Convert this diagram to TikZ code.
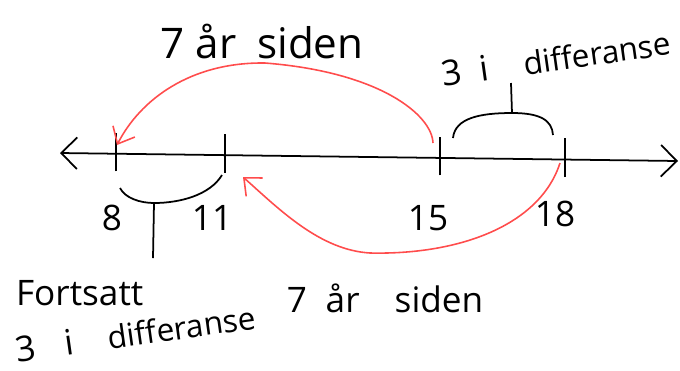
\documentclass[tikz,border=0pt]{standalone}
\usepackage{fontspec}
\setmainfont{Open Sans}
\usetikzlibrary{arrows.meta,positioning}
\tikzstyle{hand}=[font=\fontsize{20}{22}\selectfont,inner sep=1pt]
\tikzstyle{smallhand}=[font=\fontsize{18}{20}\selectfont,inner sep=1pt]
\tikzstyle{bighand}=[font=\fontsize{24}{26}\selectfont,inner sep=1pt]
\tikzstyle{axis}=[{Straight Barb[length=9pt,width=18pt]}-{Straight Barb[length=9pt,width=18pt]},line width=1pt]
\tikzstyle{tickmark}=[line width=1pt]
\tikzstyle{brace}=[line width=1pt]
\tikzstyle{redarr}=[-{Straight Barb[length=8pt,width=14pt]},red!70,line width=0.9pt]
\begin{document}
\begin{tikzpicture}[x=0.02cm,y=-0.02cm]
\useasboundingbox (0,0) rectangle (680,370);
% number line
\coordinate (L) at (60,153);
\coordinate (R) at (678,161);
\draw[axis] (L) -- (R);
\foreach \x/\n in {116/8,225/11,440/15,565/18}{
  \coordinate (t\n) at (\x,{153+8*(\x-60)/618});
  \draw[tickmark] ([yshift=-10]t\n) -- ([yshift=12]t\n);
}
\node[hand] (n8) at (112,218) {8};
\node[hand] (n11) at (212,218) {11};
\node[hand] (n15) at (428,218) {15};
\node[hand] (n18) at (555,214) {18};
% top brace 15--18
\coordinate (b1) at (453,138);
\coordinate (b2) at (553,135);
\coordinate (bt) at (512,113);
\draw[brace] (b1) .. controls (455,118) and (480,113) .. (bt) .. controls (540,113) and (552,120) .. (b2);
\draw[brace] (bt) -- (511,83);
\node[smallhand,rotate=8] (dtop) at (556,58) {\fontsize{20}{22}\selectfont 3\; i\quad\fontsize{18}{20}\selectfont differanse};
% bottom brace 8--11
\coordinate (c1) at (120,188);
\coordinate (c2) at (222,175);
\coordinate (cb) at (154,203);
\draw[brace] (c1) .. controls (125,198) and (140,203) .. (cb) .. controls (180,203) and (210,195) .. (c2);
\draw[brace] (cb) -- (153,258);
\node[hand,anchor=west] (fort) at (14,293) {Fortsatt};
\node[smallhand,anchor=west,rotate=8] (dbot) at (14,350) {\fontsize{20}{22}\selectfont 3\;\; i\quad\fontsize{18}{20}\selectfont differanse};
% red arrows
\coordinate (s15) at (433,143);
\coordinate (e8) at (117,145);
\draw[redarr] (s15) .. controls (432,115) and (380,72) .. (265,63) .. controls (190,62) and (140,100) .. (e8);
\node[bighand] (top7) at (262,42) {7 år\enspace siden};
\coordinate (s18) at (560,163);
\coordinate (e11) at (243,177);
\draw[redarr] (s18) .. controls (540,225) and (460,255) .. (370,253) .. controls (320,250) and (280,210) .. (e11);
\node[hand] (bot7) at (385,298) {7\; år\quad siden};
\end{tikzpicture}
\end{document}
